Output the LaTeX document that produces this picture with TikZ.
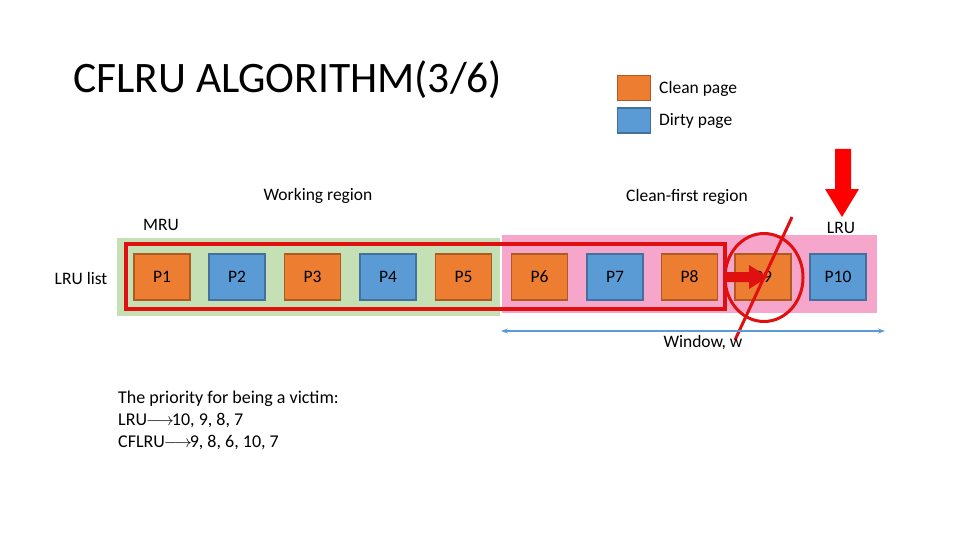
\documentclass[tikz,border=0pt]{standalone}
\usepackage{fontspec}
\setmainfont{Carlito}
\usetikzlibrary{arrows.meta,shapes.geometric}
\definecolor{cleanfill}{HTML}{ED7D31}
\definecolor{cleanline}{HTML}{AE5A21}
\definecolor{dirtyfill}{HTML}{5B9BD5}
\definecolor{dirtyline}{HTML}{41719C}
\definecolor{workgreen}{HTML}{C5E0B4}
\definecolor{cfpink}{HTML}{F7A6CB}
\definecolor{hotred}{HTML}{FF0000}
\definecolor{boxred}{HTML}{E01010}
\definecolor{winblue}{HTML}{5B9BD5}
\tikzset{
  lbl/.style={font=\fontsize{17.5}{20}\selectfont, inner sep=0pt, text=black},
  pagebox/.style={minimum width=56pt, minimum height=46pt, line width=1.6pt, inner sep=0pt, font=\fontsize{17.5}{20}\selectfont},
  clean/.style={pagebox, fill=cleanfill, draw=cleanline},
  dirty/.style={pagebox, fill=dirtyfill, draw=dirtyline},
  legendbox/.style={minimum width=33pt, minimum height=25pt, line width=1.6pt, inner sep=0pt},
  region/.style={anchor=north west, inner sep=0pt},
}
\begin{document}
\begin{tikzpicture}[x=1pt,y=-1pt]
\useasboundingbox[fill=white] (0,0) rectangle (960,540);

% title
\node[anchor=west, inner sep=0pt, font=\fontsize{43.5}{48}\selectfont] (title) at (73,80) {CFLRU ALGORITHM(3/6)};

% legend
\node[legendbox, fill=cleanfill, draw=cleanline] (lgc) at (634,88) {};
\node[lbl, anchor=west] (lgct) at (659,89) {Clean page};
\node[legendbox, fill=dirtyfill, draw=dirtyline] (lgd) at (634,120.5) {};
\node[lbl, anchor=west] (lgdt) at (659,121) {Dirty page};

% region labels
\node[lbl] (wr) at (318,196) {Working region};
\node[lbl] (cfr) at (687,197) {Clean-first region};
\node[lbl] (mru) at (161,225) {MRU};
\node[lbl] (lru) at (841,228) {LRU};
\node[lbl] (lrulist) at (81,278) {LRU list};

% regions
\node[region, fill=workgreen, minimum width=383pt, minimum height=78pt] (work) at (117,238) {};
\node[region, fill=cfpink, minimum width=375pt, minimum height=78pt] (cf) at (502,235) {};

% red box around working region + window part
\node[region, draw=boxred, line width=4pt, minimum width=599pt, minimum height=65pt] (redbox) at (124,242) {};

% pages
\node[clean] (p1) at (162,277) {P1};
\node[dirty] (p2) at (237,277) {P2};
\node[clean] (p3) at (312.5,277) {P3};
\node[dirty] (p4) at (388,277) {P4};
\node[clean] (p5) at (463.5,277) {P5};
\node[clean] (p6) at (539.5,277) {P6};
\node[dirty] (p7) at (615,277) {P7};
\node[clean] (p8) at (689.5,277) {P8};
\node[clean] (p9) at (763,277) {P9};
\node[dirty] (p10) at (838,277) {P10};

% LRU pointer arrow
\fill[hotred] (835,149) -- (851,149) -- (851,189) -- (859,189) -- (842,217) -- (825,189) -- (835,189) -- cycle;

% thick red arrow P8 -> P9
\fill[boxred] (723,272) -- (749,272) -- (749,265) -- (768,277) -- (749,289) -- (749,282) -- (723,282) -- cycle;

% circle and strike line
\node[ellipse, draw=boxred, line width=3pt, minimum width=78pt, minimum height=88pt, inner sep=0pt] (circ) at (764,277.5) {};
\coordinate (sa) at (792,217);
\coordinate (sb) at (735,340);
\draw[boxred, line width=3pt] (sa) -- (sb);

% window arrow
\coordinate (wl) at (501,331);
\coordinate (wrr) at (885,331);
\draw[winblue, line width=1.4pt, {Stealth[length=7pt,width=5pt]}-{Stealth[length=7pt,width=5pt]}] (wl) -- (wrr);
\node[lbl] (win) at (703,343) {Window, w};

% priority text
\node[lbl, anchor=north west, align=left, font=\fontsize{18}{22}\selectfont] (prio) at (118,391)
  {The priority for being a victim:\\
   LRU\kern-1pt$\longrightarrow$\kern-2pt10, 9, 8, 7\\
   CFLRU\kern-1pt$\longrightarrow$\kern-2pt9, 8, 6, 10, 7};
\end{tikzpicture}
\end{document}
